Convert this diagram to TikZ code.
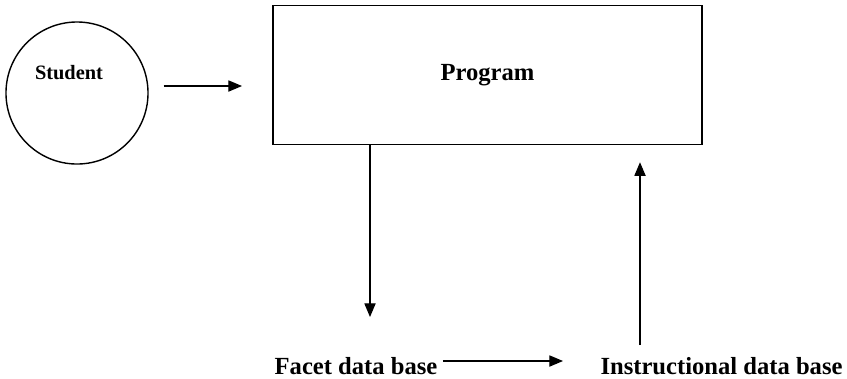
\documentclass[tikz,border=0pt]{standalone}
\usepackage{fontspec}
\setmainfont{Liberation Serif}
\usetikzlibrary{arrows.meta}
\begin{document}
\begin{tikzpicture}[x=0.025cm, y=-0.025cm, line width=0.8pt,
    >={Triangle[length=0.34cm, width=0.28cm]},
    actor/.style={draw, circle, line width=1pt, minimum size=3.55cm, inner sep=0pt},
    proc/.style={draw, rectangle, line width=1pt, minimum width=10.725cm, minimum height=3.475cm,
        font=\fontsize{17.5}{20}\selectfont\bfseries},
    store/.style={inner sep=0pt, font=\fontsize{17.5}{20}\selectfont\bfseries},
    flow/.style={->}]
    \useasboundingbox (0,0) rectangle (847,378);
    \node[actor, label={[font=\fontsize{14.5}{17}\selectfont\bfseries, xshift=-0.2cm, yshift=0.5cm]center:Student}] (student) at (77,93) {};
    \node[proc] (program) at (487.5,75) {Program};
    \node[store, anchor=base] (facet) at (356,374) {Facet data base};
    \node[store, anchor=base] (instr) at (721.5,374) {Instructional data base};
    \coordinate (intip) at (242,86);
    \coordinate (downtip) at (370,317);
    \coordinate (dbtip) at (563,361);
    \coordinate (upfoot) at (640,345);
    \draw[flow, shorten <=0.375cm] (intip -| student.east) -- (intip);
    \draw[flow] (program.south -| downtip) -- (downtip);
    \draw[flow, shorten <=0.125cm] (dbtip -| facet.east) -- (dbtip);
    \draw[flow, shorten >=0.425cm] (upfoot) -- (upfoot |- program.south);
\end{tikzpicture}
\end{document}
